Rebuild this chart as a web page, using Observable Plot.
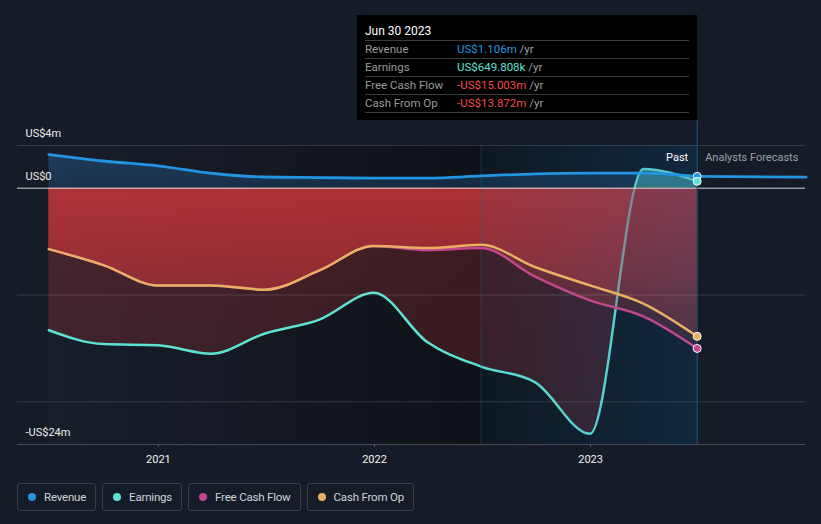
<!DOCTYPE html>
<html>
<head>
<meta charset="utf-8">
<script src="https://cdn.jsdelivr.net/npm/d3@7"></script>
<script src="https://cdn.jsdelivr.net/npm/@observablehq/plot@0.6"></script>
<style>
  html, body { margin: 0; padding: 0; background: #161c27; }
  body { font-family: Roboto, "Noto Sans", sans-serif; }
  #wrap { position: relative; width: 821px; height: 524px; overflow: hidden; }
  #chart { position: absolute; left: 0; top: 0; }
  #tip { position: absolute; left: 357px; top: 15px; width: 340px; height: 105px; background: #000; box-sizing: border-box; padding: 0 8px; }
  #tip .title { color: #fff; font-size: 12px; height: 25px; line-height: 32px; border-bottom: 1px solid #3a3a3a; }
  #tip .row { height: 17px; line-height: 17px; font-size: 11.5px; border-bottom: 1px solid #3a3a3a; display: flex; }
  #tip .lab { color: #9b9b9b; width: 92px; }
  #tip .unit { color: #a0a0a0; }
  #legend { position: absolute; left: 17px; top: 483px; display: flex; gap: 6px; }
  #legend .item { height: 28px; box-sizing: border-box; border: 1px solid #393e49; border-radius: 3px; display: flex; align-items: center; padding: 0 9px 0 10px; color: #cfd3d9; font-size: 11.5px; letter-spacing: -0.2px; }
  #legend .dot { width: 8px; height: 8px; border-radius: 50%; margin-right: 8px; }
</style>
</head>
<body>
<div id="wrap">
  <div id="chart"></div>
  <div id="tip"></div>
  <div id="legend"></div>
</div>
<script>
// ---- data (US$ millions, trailing twelve months) ----
const dates    = ["2020-06-30","2020-09-30","2020-12-31","2021-03-31","2021-06-30","2021-09-30","2021-12-31","2022-03-31","2022-06-30","2022-09-30","2022-12-31","2023-03-31","2023-06-30"];
const revenue  = [3.15, 2.55, 2.1, 1.4, 1.05, 1.0, 0.95, 0.95, 1.15, 1.35, 1.42, 1.42, 1.106];
const earnings = [-13.3, -14.6, -14.7, -15.5, -13.6, -12.3, -9.8, -14.4, -16.7, -18.2, -23.0, 1.8, 0.650];
const fcf      = [-5.7, -7.2, -9.1, -9.1, -9.5, -7.7, -5.4, -5.8, -5.6, -8.3, -10.5, -12.0, -15.003];
const cfo      = [-5.7, -7.2, -9.1, -9.1, -9.5, -7.7, -5.4, -5.6, -5.3, -7.4, -9.1, -10.8, -13.872];
const forecastDates   = ["2023-06-30", "2023-12-31"];
const forecastRevenue = [1.106, 1.03];
const yLabelValues = [4, 0, -24];
const yLabelTexts  = ["US$4m", "US$0", "-US$24m"];
const gridValues   = [4, -10, -20];
const xTickYears   = ["2021-01-01", "2022-01-01", "2023-01-01"];
const seriesNames  = ["Revenue", "Earnings", "Free Cash Flow", "Cash From Op"];
const seriesColors = ["#2394df", "#5ee3d3", "#c2478c", "#e9b062"];
const tipTitle = "Jun 30 2023";
const tipValues = ["US$1.106m", "US$649.808k", "-US$15.003m", "-US$13.872m"];
const tipColors = ["#2394df", "#5ee3d3", "#f04a4a", "#f04a4a"];

const rows = dates.map((d, i) => ({date: new Date(d), revenue: revenue[i], earnings: earnings[i], fcf: fcf[i], cfo: cfo[i]}));
const fRows = forecastDates.map((d, i) => ({date: new Date(d), revenue: forecastRevenue[i]}));
const last = rows[rows.length - 1];
const bandStart = new Date("2022-06-30"), bandEnd = new Date("2023-06-30");
const curve = "monotone-x";

const plot = Plot.plot({
  width: 821, height: 475,
  marginTop: 145, marginBottom: 31, marginLeft: 17, marginRight: 16,
  x: {type: "utc", domain: [new Date("2020-05-08"), new Date("2023-12-30")], axis: null},
  y: {domain: [-24, 4], axis: null},
  style: {background: "transparent", color: "#eeeeee", fontFamily: "Roboto, sans-serif", fontSize: "11px", overflow: "visible"},
  marks: [
    Plot.rect([0], {x1: () => rows[0].date, x2: () => bandEnd, y1: -24, y2: 4, fill: "url(#bgGrad)"}),
    Plot.areaY(rows, {x: "date", y1: 0, y2: "revenue", curve, fill: "url(#revGrad)"}),
    Plot.areaY(rows, {x: "date", y1: 0, y2: "earnings", curve, fill: "url(#earnGrad)"}),
    Plot.areaY(rows, {x: "date", y1: 0, y2: "cfo", curve, fill: "url(#redGrad)"}),
    Plot.lineY(rows, {x: "date", y: "earnings", curve, stroke: seriesColors[1], strokeWidth: 2.5}),
    Plot.areaY(rows, {x: "date", y1: 0, y2: "fcf", curve, fill: "url(#redGrad)"}),
    Plot.rect([0], {x1: () => bandStart, x2: () => bandEnd, y1: -24, y2: 4, fill: "url(#bandGrad)"}),
    Plot.ruleX([bandStart], {y1: -24, y2: 4, stroke: "#2a5a80", strokeOpacity: 0.45}),
    Plot.ruleY(gridValues, {stroke: "#ffffff", strokeOpacity: 0.14}),
    Plot.ruleY([-24], {stroke: "#444955"}),
    Plot.ruleY([0], {stroke: "#e8e8e8", strokeOpacity: 0.9}),
    Plot.axisX(xTickYears.map(d => new Date(d)), {tickFormat: d3.utcFormat("%Y"), tickSize: 3, tickPadding: 8, stroke: "#555a66", fill: "#f2f2f2", fontSize: 11}),
    Plot.lineY(rows, {x: "date", y: "fcf", curve, stroke: seriesColors[2], strokeWidth: 2.5}),
    Plot.lineY(rows, {x: "date", y: "cfo", curve, stroke: seriesColors[3], strokeWidth: 2.5}),
    Plot.lineY(rows, {x: "date", y: "revenue", curve, stroke: seriesColors[0], strokeWidth: 2.8}),
    Plot.lineY(fRows, {x: "date", y: "revenue", curve, stroke: seriesColors[0], strokeWidth: 2.8}),
    Plot.ruleX([bandEnd], {y1: -24, y2: 6.3, stroke: "#24587e"}),
    Plot.dot([last], {x: "date", y: "revenue", r: 4, fill: seriesColors[0], stroke: "#fff", strokeWidth: 1}),
    Plot.dot([last], {x: "date", y: "earnings", r: 4, fill: seriesColors[1], stroke: "#fff", strokeWidth: 1}),
    Plot.dot([last], {x: "date", y: "cfo", r: 4, fill: seriesColors[3], stroke: "#fff", strokeWidth: 1}),
    Plot.dot([last], {x: "date", y: "fcf", r: 4, fill: seriesColors[2], stroke: "#fff", strokeWidth: 1}),
    Plot.text(yLabelValues, {y: d => d, text: (d, i) => yLabelTexts[i], frameAnchor: "left", dx: 8, dy: -12, textAnchor: "start", fill: "#eeeeee", fontSize: 11}),
    Plot.text(["Past"], {x: () => bandEnd, y: () => 4, text: d => d, dx: -9, dy: 12, textAnchor: "end", fill: "#ffffff", fontSize: 11}),
    Plot.text(["Analysts Forecasts"], {x: () => bandEnd, y: () => 4, text: d => d, dx: 8, dy: 12, textAnchor: "start", fill: "#9aa0a8", fontSize: 11})
  ]
});

// gradients (placed into the svg's defs, using the plot's own scales)
const ys = plot.scale("y");
const y4 = ys.apply(4), y0 = ys.apply(0), yB = ys.apply(-24);
const zf = (y0 - y4) / (yB - y4);
const svg = d3.select(plot);
const defs = svg.insert("defs", ":first-child");
function grad(id, attrs, stops) {
  const g = defs.append("linearGradient").attr("id", id);
  Object.entries(attrs).forEach(([k, v]) => g.attr(k, v));
  stops.forEach(([o, c, a]) => g.append("stop").attr("offset", o).attr("stop-color", c).attr("stop-opacity", a));
}
grad("bgGrad", {x1: 0, x2: 1, y1: 0, y2: 0}, [[0, "#181e2a", 1], [0.667, "#0e1218", 1], [1, "#0e1218", 1]]);
grad("bandGrad", {x1: 0, x2: 1, y1: 0, y2: 0}, [[0, "#1e6eb4", 0.06], [1, "#1e6eb4", 0.24]]);
grad("revGrad", {gradientUnits: "userSpaceOnUse", x1: 0, x2: 0, y1: y4, y2: y0}, [[0, "#2a7cc8", 0.35], [1, "#2a7cc8", 0.22]]);
grad("earnGrad", {gradientUnits: "userSpaceOnUse", x1: 0, x2: 0, y1: y4, y2: yB}, [[0, "#5ee3d3", 0.42], [zf, "#5ee3d3", 0.42], [zf, "#d2373c", 0.25], [1, "#d2373c", 0.2]]);
grad("redGrad", {gradientUnits: "userSpaceOnUse", x1: 0, x2: 0, y1: y0, y2: ys.apply(-16)}, [[0, "#cf373c", 0.5], [1, "#cf373c", 0.2]]);

document.getElementById("chart").appendChild(plot);

// tooltip box
const tip = document.getElementById("tip");
tip.innerHTML = `<div class="title">${tipTitle}</div>` + seriesNames.map((n, i) =>
  `<div class="row"><span class="lab">${n}</span><span style="color:${tipColors[i]}">${tipValues[i]}</span><span class="unit">&nbsp;/yr</span></div>`).join("");

// legend
const legend = document.getElementById("legend");
legend.innerHTML = seriesNames.map((n, i) =>
  `<div class="item"><span class="dot" style="background:${seriesColors[i]}"></span>${n}</div>`).join("");
</script>
</body>
</html>
